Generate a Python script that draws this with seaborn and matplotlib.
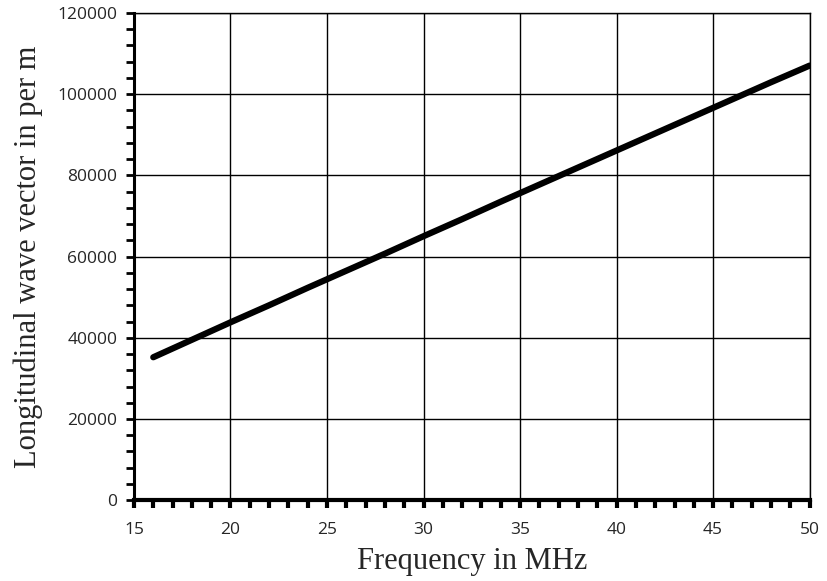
import seaborn as sns
import matplotlib.pyplot as plt
import pandas as pd
from matplotlib.ticker import MultipleLocator

# frequency (MHz) and longitudinal wave vector (per m)
freq = [16, 18, 20, 22, 24, 26, 28, 30, 32, 34, 36, 38, 40, 42, 44, 46, 48, 50]
wave = [35200, 39500, 43800, 48000, 52300, 56500, 60700, 65000, 69200,
        73500, 77700, 81900, 86100, 90300, 94500, 98700, 102900, 107000]

df = pd.DataFrame({'f': freq, 'k': wave})

sns.set_style('white')
plt.rcParams['font.family'] = ['Open Sans', 'DejaVu Sans']
fig, ax = plt.subplots(figsize=(8.27, 5.81), dpi=100)
fig.subplots_adjust(left=0.162, right=0.979, top=0.978, bottom=0.139)

sns.lineplot(data=df, x='f', y='k', ax=ax, color='black', linewidth=4.5,
             solid_capstyle='round')

ax.set_xlim(15, 50)
ax.set_ylim(0, 120000)
ax.xaxis.set_major_locator(MultipleLocator(5))
ax.xaxis.set_minor_locator(MultipleLocator(1))
ax.yaxis.set_major_locator(MultipleLocator(20000))
ax.yaxis.set_minor_locator(MultipleLocator(4000))

ax.grid(True, which='major', color='black', linewidth=1)
ax.set_axisbelow(True)

for side in ['top', 'right']:
    ax.spines[side].set_linewidth(1)
    ax.spines[side].set_color('black')
ax.spines['left'].set_linewidth(2.2)
ax.spines['bottom'].set_linewidth(3)
ax.spines['left'].set_color('black')
ax.spines['bottom'].set_color('black')

ax.tick_params(axis='both', which='both', direction='out', color='black',
               left=True, bottom=True, labelsize=12.5)
ax.tick_params(axis='y', which='both', length=6, width=2, pad=6)
ax.tick_params(axis='x', which='both', length=6, width=3, pad=10)

ax.set_xlabel('Frequency in MHz', fontfamily='Liberation Serif', fontsize=22,
              labelpad=6)
ax.set_ylabel('Longitudinal wave vector in per m', fontfamily='Liberation Serif',
              fontsize=22, labelpad=10)

fig.savefig('out.png', dpi=100)
